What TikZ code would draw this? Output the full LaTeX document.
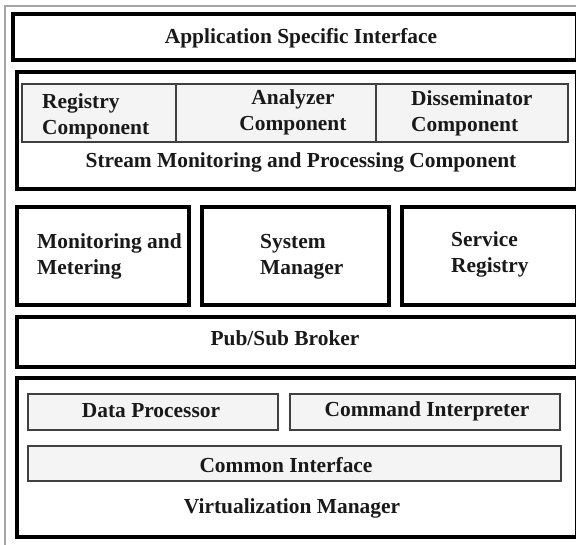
\documentclass[tikz,border=0pt]{standalone}
\usepackage{fontspec}
\setmainfont{Liberation Serif}
\begin{document}
\begin{tikzpicture}[x=1pt,y=-1pt,
  frame/.style={draw=gray!70,line width=1.2pt},
  thickbox/.style={draw=black,line width=4pt,fill=white},
  graybox/.style={draw=black!75,line width=1.4pt,fill=gray!9},
  lbl/.style={font=\fontsize{21.4}{26}\selectfont\bfseries,inner sep=0pt,text=black!90}]
\useasboundingbox (0,0) rectangle (576,545);
\clip (0,0) rectangle (576,545);
\fill[white] (0,0) rectangle (576,545);
\draw[frame] (5,560) -- (5,6) -- (590,6);
% boxes
\draw[thickbox] (13,14) rectangle (577,60);
\draw[thickbox] (17,72) rectangle (577,189);
\draw[thickbox] (17,207) rectangle (189,305);
\draw[thickbox] (202,207) rectangle (389,305);
\draw[thickbox] (402,207) rectangle (577,305);
\draw[thickbox] (17,317) rectangle (577,367);
\draw[thickbox] (17,378) rectangle (577,537);
\draw[graybox] (22,84) rectangle (176,142);
\draw[graybox] (176,84) rectangle (376,142);
\draw[graybox] (376,84) rectangle (568,142);
\draw[graybox] (28,394) rectangle (278,430);
\draw[graybox] (290,394) rectangle (560,430);
\draw[graybox] (28,446) rectangle (561,481);
% labels
\node[lbl] (asi) at (301,38.5) {Application Specific Interface};
\node[lbl,align=left,anchor=west] (reg) at (42,116.5) {Registry\\Component};
\node[lbl,align=center] (ana) at (293,112.5) {Analyzer\\Component};
\node[lbl,align=left,anchor=west] (dis) at (411,113.5) {Disseminator\\Component};
\node[lbl] (smp) at (301,162.5) {Stream Monitoring and Processing Component};
\node[lbl,align=left,anchor=west] (mm) at (37,256.5) {Monitoring and\\Metering};
\node[lbl,align=left,anchor=west] (sm) at (260,256.5) {System\\Manager};
\node[lbl,align=left,anchor=west] (sr) at (451,254.5) {Service\\Registry};
\node[lbl] (psb) at (285,338.5) {Pub/Sub Broker};
\node[lbl] (dp) at (151,410.5) {Data Processor};
\node[lbl] (ci) at (427,411.5) {Command Interpreter};
\node[lbl] (cif) at (286,465.5) {Common Interface};
\node[lbl] (vm) at (292,508.5) {Virtualization Manager};
\end{tikzpicture}
\end{document}
